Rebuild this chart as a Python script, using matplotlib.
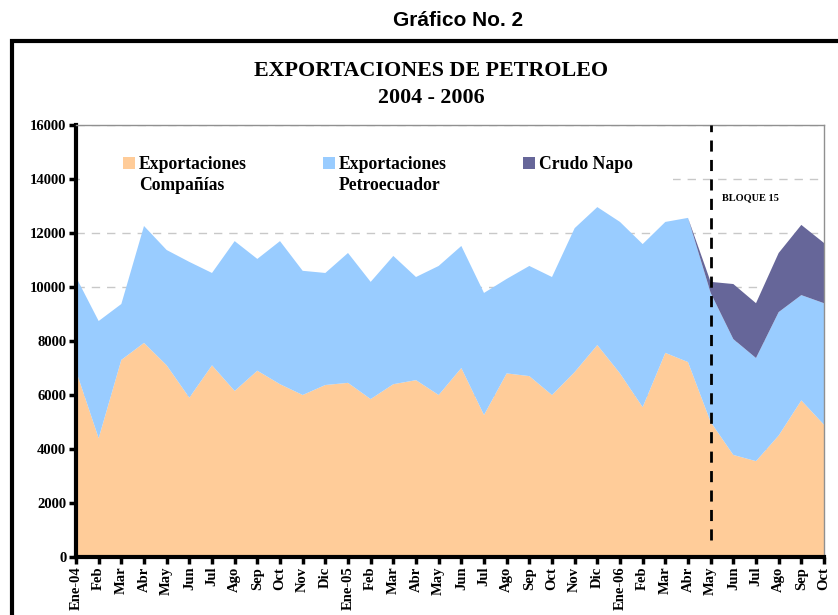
import numpy as np
import matplotlib as mpl
mpl.use("Agg")

import matplotlib.pyplot as plt
from matplotlib.patches import Rectangle

mpl.rcParams['font.family'] = ['Liberation Serif', 'DejaVu Serif']
mpl.rcParams['font.weight'] = 'bold'

meses = ['Ene-04', 'Feb', 'Mar', 'Abr', 'May', 'Jun', 'Jul', 'Ago', 'Sep', 'Oct', 'Nov', 'Dic',
         'Ene-05', 'Feb', 'Mar', 'Abr', 'May', 'Jun', 'Jul', 'Ago', 'Sep', 'Oct', 'Nov', 'Dic',
         'Ene-06', 'Feb', 'Mar', 'Abr', 'May', 'Jun', 'Jul', 'Ago', 'Sep', 'Oct']

companias = [6900, 4400, 7300, 7930, 7100, 5900, 7100, 6150, 6900, 6400, 6000, 6370,
             6450, 5850, 6400, 6550, 6000, 7000, 5260, 6800, 6700, 6000, 6850, 7850,
             6800, 5550, 7560, 7220, 5000, 3780, 3550, 4500, 5800, 4900]

# total (companias + petroecuador)
total_ce = [10370, 8740, 9370, 12260, 11370, 10930, 10520, 11700, 11040, 11700, 10600, 10520,
            11260, 10190, 11150, 10370, 10780, 11520, 9780, 10300, 10780, 10370, 12180, 12960,
            12410, 11590, 12410, 12560, 9780, 8070, 7370, 9070, 9700, 9400]

napo = [0] * 27 + [0, 410, 2040, 2030, 2190, 2600, 2230]

petroecuador = [t - c for t, c in zip(total_ce, companias)]

series = ['Exportaciones\nCompañías', 'Exportaciones\nPetroecuador', 'Crudo Napo']
colores = ['#FFCC99', '#99CCFF', '#666699']

x = np.arange(len(meses))

fig = plt.figure(figsize=(8.38, 6.15), dpi=100)
ax = fig.add_axes([76/838, 58/615, 748/838, 432/615])

ax.stackplot(x, companias, petroecuador, napo, colors=colores, zorder=2)

ax.set_xlim(0, 33)
ax.set_ylim(0, 16000)
ax.set_yticks(np.arange(0, 16001, 2000))
ax.set_xticks(x)
ax.set_xticklabels(meses, rotation=90, fontsize=10.5, fontweight='bold')
for lbl in ax.get_yticklabels():
    lbl.set_fontsize(10.5)
    lbl.set_fontweight('bold')
ax.tick_params(axis='both', direction='out', length=5, width=2.5, color='black', pad=2)
ax.yaxis.grid(True, linestyle=(0, (6, 5)), color='#c8c8c8', linewidth=1, zorder=0)
ax.set_axisbelow(True)

ax.spines['left'].set_linewidth(3)
ax.spines['bottom'].set_linewidth(3)
ax.spines['top'].set_color('#909090')
ax.spines['right'].set_color('#909090')
ax.spines['top'].set_linewidth(1)
ax.spines['right'].set_linewidth(1)

ax.plot([28, 28], [630, 16000], color='black', linestyle=(0, (4, 3)), linewidth=2, zorder=3)
ax.text(28.5, 13200, 'BLOQUE 15', fontsize=7.5, fontweight='bold', zorder=4)

# legend drawn by hand: white box over the grid, square marker beside the first line
ax.add_patch(Rectangle((0.006, 0.826), 0.792, 0.118, transform=ax.transAxes,
                       facecolor='white', edgecolor='none', zorder=1))
for i, (nombre, col) in enumerate(zip(series, colores)):
    x0 = 0.0628 + i * 0.2674
    ax.add_patch(Rectangle((x0, 0.898), 0.016, 0.0278, transform=ax.transAxes,
                           facecolor=col, edgecolor='none', zorder=5))
    ax.text(x0 + 0.0214, 0.928, nombre, transform=ax.transAxes, ha='left', va='top',
            fontsize=12.7, fontweight='bold', linespacing=1.3, zorder=5)

fig.text(431/838, 1 - 71/615, 'EXPORTACIONES DE PETROLEO', ha='center', va='center',
         fontsize=15.8, fontweight='bold')
fig.text(431/838, 1 - 98/615, '2004 - 2006', ha='center', va='center',
         fontsize=15.8, fontweight='bold')
fig.text(458/838, 1 - 20/615, 'Gráfico No. 2', ha='center', va='center', fontsize=15,
         fontweight='bold', family=['Liberation Sans Narrow', 'Liberation Sans', 'DejaVu Sans'])

fig.add_artist(Rectangle((12/838, -0.1), 1.0, 1.1 - 41/615, transform=fig.transFigure,
                         fill=False, edgecolor='black', linewidth=3, clip_on=False))

plt.savefig('out.png', dpi=100)
